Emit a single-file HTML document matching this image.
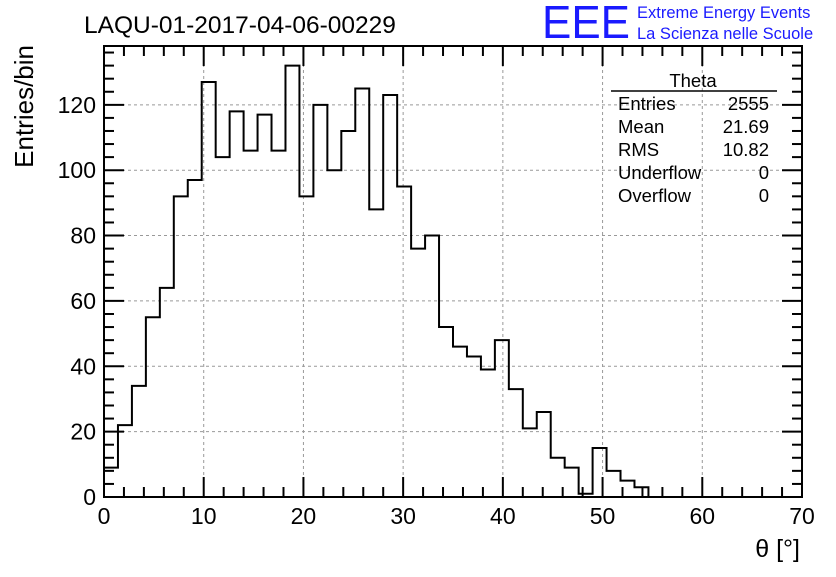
<!DOCTYPE html>
<html><head><meta charset="utf-8"><style>
body{margin:0;background:#fff;}
svg text{font-family:"Liberation Sans",sans-serif;}
</style></head><body>
<svg id="c" width="836" height="572" xmlns="http://www.w3.org/2000/svg">
<rect width="836" height="572" fill="#fff"/>
<text x="84" y="33" font-size="24.5">LAQU-01-2017-04-06-00229</text>
<text x="542" y="38" font-size="46" fill="#1a1aff" textLength="88" lengthAdjust="spacingAndGlyphs">EEE</text>
<text x="637" y="18" font-size="16.5" fill="#1a1aff">Extreme Energy Events</text>
<text x="637" y="39" font-size="16.5" fill="#1a1aff">La Scienza nelle Scuole</text>
<text transform="translate(33,45) rotate(-90)" text-anchor="end" font-size="26">Entries/bin</text>
<text x="800" y="557" text-anchor="end" font-size="25">θ [°]</text>
<g id="grid"></g><g id="ticks"></g><path id="hist" fill="none" stroke="#000" stroke-width="2"/>
<rect x="104" y="46" width="698" height="451" fill="none" stroke="#000" stroke-width="2"/>
<g font-size="18.5">
<text x="693" y="87" text-anchor="middle">Theta</text>
<line x1="611" y1="91" x2="777" y2="91" stroke="#000" stroke-width="1.5"/>
<text x="618" y="110">Entries</text><text x="769" y="110" text-anchor="end">2555</text>
<text x="618" y="133">Mean</text><text x="769" y="133" text-anchor="end">21.69</text>
<text x="618" y="156">RMS</text><text x="769" y="156" text-anchor="end">10.82</text>
<text x="618" y="179">Underflow</text><text x="769" y="179" text-anchor="end">0</text>
<text x="618" y="202">Overflow</text><text x="769" y="202" text-anchor="end">0</text>
</g>
</svg>
<script>
const counts=[9,22,34,55,64,92,97,127,104,118,106,117,106,132,92,120,100,112,125,88,123,95,76,80,52,46,43,39,48,33,21,26,12,9,1,15,8,5,3,0,0,0,0,0,0,0,0,0,0,0];
const binWidth=[1.4];
const xTicks=[0,10,20,30,40,50,60,70];
const yTicks=[0,20,40,60,80,100,120];
const X0=104,X1=802,Y0=497,Y1=46;
const xs=v=>X0+(v/70)*(X1-X0);
const ys=v=>Y0-(v/138)*(Y0-Y1);
const NS="http://www.w3.org/2000/svg";
const svg=document.getElementById('c');
const grid=document.getElementById('grid'),tk=document.getElementById('ticks');
function mk(tag,at,par){const e=document.createElementNS(NS,tag);for(const k in at)e.setAttribute(k,at[k]);par.appendChild(e);return e;}
xTicks.forEach(v=>{
 if(v>0&&v<70){const g=mk('line',{x1:xs(v),x2:xs(v),y1:Y1,y2:Y0,stroke:'#999','stroke-dasharray':'3,3'},grid);
 
 }
 const t=mk('text',{x:xs(v),y:524,'text-anchor':'middle','font-size':'23'},svg);t.textContent=v;
 
 
});
yTicks.forEach(v=>{
 if(v>0){const g=mk('line',{x1:X0,x2:X1,y1:ys(v),y2:ys(v),stroke:'#999','stroke-dasharray':'3,3'},grid);
 
 }
 const t=mk('text',{x:96,y:ys(v)+8,'text-anchor':'end','font-size':'23'},svg);t.textContent=v;
 
 
});
for(let v=0;v<=70;v+=2){const L=v%10===0?20:10;
 mk('line',{x1:xs(v),x2:xs(v),y1:Y0,y2:Y0-L,stroke:'#000','stroke-width':2},tk);
 mk('line',{x1:xs(v),x2:xs(v),y1:Y1,y2:Y1+L,stroke:'#000','stroke-width':2},tk);}
for(let v=0;v<=136;v+=4){const L=v%20===0?20:10;
 mk('line',{x1:X0,x2:X0+L,y1:ys(v),y2:ys(v),stroke:'#000','stroke-width':2},tk);
 mk('line',{x1:X1,x2:X1-L,y1:ys(v),y2:ys(v),stroke:'#000','stroke-width':2},tk);}
let d='M'+xs(0)+','+ys(0);
counts.forEach((c,i)=>{d+=' L'+xs(i*binWidth[0])+','+ys(c)+' L'+xs((i+1)*binWidth[0])+','+ys(c);});
d+=' L'+xs(70)+','+ys(0);
document.getElementById('hist').setAttribute('d',d);
</script>
</body></html>
